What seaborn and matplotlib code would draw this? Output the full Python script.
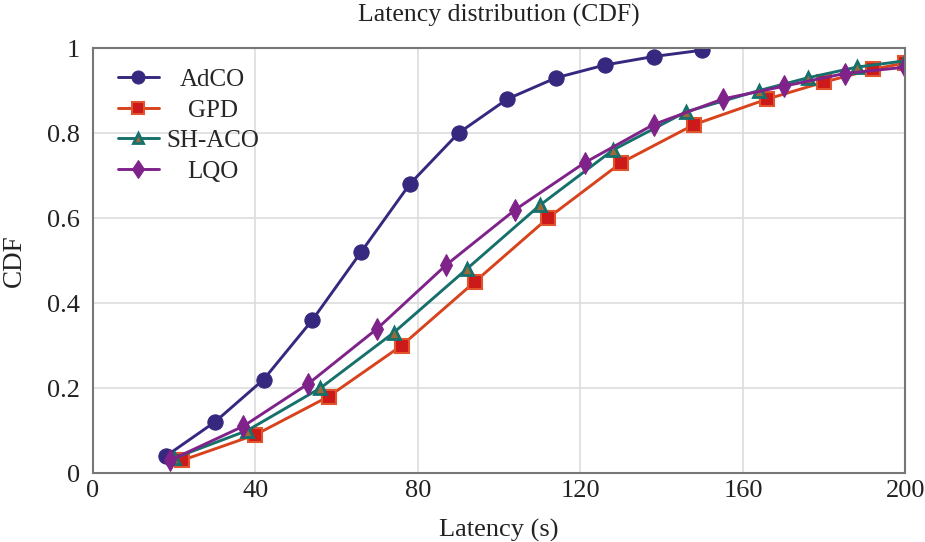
"""Latency CDF comparison chart."""

import matplotlib

matplotlib.use("Agg")
import matplotlib.pyplot as plt
import pandas as pd
import seaborn as sns

ADCO_X = [18, 30, 42, 54, 66, 78, 90, 102, 114, 126, 138, 150]
ADCO_Y = [0.04, 0.12, 0.22, 0.36, 0.52, 0.68, 0.80, 0.88, 0.93, 0.96, 0.98, 0.995]

GPD_X = [22, 40, 58, 76, 94, 112, 130, 148, 166, 180, 192, 200]
GPD_Y = [0.03, 0.09, 0.18, 0.30, 0.45, 0.60, 0.73, 0.82, 0.88, 0.92, 0.95, 0.965]

SHACO_X = [20, 38, 56, 74, 92, 110, 128, 146, 164, 176, 188, 200]
SHACO_Y = [0.035, 0.10, 0.20, 0.33, 0.48, 0.63, 0.76, 0.85, 0.90, 0.93, 0.955, 0.97]

LQO_X = [19, 37, 53, 70, 87, 104, 121, 138, 155, 170, 185, 200]
LQO_Y = [0.03, 0.11, 0.21, 0.34, 0.49, 0.62, 0.73, 0.82, 0.88, 0.91, 0.94, 0.955]

X_TICKS = [0, 40, 80, 120, 160, 200]
Y_TICKS = [0, 0.2, 0.4, 0.6, 0.8, 1]
Y_TICK_LABELS = ["0", "0.2", "0.4", "0.6", "0.8", "1"]

SERIES = [
    ("AdCO", ADCO_X, ADCO_Y,
     dict(color="#36287f", marker="o", markersize=11, markerfacecolor="#36287f",
          markeredgecolor="#36287f")),
    ("GPD", GPD_X, GPD_Y,
     dict(color="#d8421c", marker="s", markersize=9.5, markerfacecolor="#cc1a1a",
          markeredgecolor="#e0552e", markeredgewidth=1.5)),
    ("SH-ACO", SHACO_X, SHACO_Y,
     dict(color="#16706c", marker="^", markersize=9, markerfacecolor="#9a6a3a",
          markeredgecolor="#16706c", markeredgewidth=2)),
    ("LQO", LQO_X, LQO_Y,
     dict(color="#7f228a", marker="d", markersize=11, markerfacecolor="#7f228a",
          markeredgecolor="#7f228a")),
]

TEXT_COLOR = "#222222"


def center_legend_texts(fig, legend) -> None:
    # the reference centres the labels in their column
    fig.canvas.draw()
    renderer = fig.canvas.get_renderer()
    texts = legend.get_texts()
    widths = [t.get_window_extent(renderer).width for t in texts]
    widest = max(widths)
    for text, width in zip(texts, widths):
        text.set_x((widest - width) / 2)


def main() -> None:
    sns.set_theme(style="whitegrid")
    plt.rcParams["font.family"] = ["Liberation Serif", "DejaVu Serif"]

    fig = plt.figure(figsize=(9.25, 5.42), dpi=100)
    ax = fig.add_axes([0.1005, 0.1273, 0.8784, 0.7841])

    for name, xs, ys, style in SERIES:
        data = pd.DataFrame({"x": xs, "y": ys})
        sns.lineplot(data=data, x="x", y="y", ax=ax, label=name,
                     linewidth=2.1, **style)

    ax.set_xlim(0, 200)
    ax.set_ylim(0, 1)
    ax.set_xticks(X_TICKS)
    ax.set_yticks(Y_TICKS)
    ax.set_yticklabels(Y_TICK_LABELS)
    ax.tick_params(axis="both", length=0, labelsize=19, colors=TEXT_COLOR)
    ax.tick_params(axis="y", pad=9.5)
    ax.tick_params(axis="x", pad=5)

    ax.grid(True, color="#dddddd", linewidth=1.2)
    for spine in ax.spines.values():
        spine.set_color("#777777")
        spine.set_linewidth(1.5)

    ax.set_title("Latency distribution (CDF)", fontsize=18.5, pad=19, color=TEXT_COLOR)
    ax.set_xlabel("Latency (s)", fontsize=19, color=TEXT_COLOR, labelpad=12)
    ax.set_ylabel("CDF", fontsize=19.5, color=TEXT_COLOR, labelpad=14)

    legend = ax.legend(loc="upper left", frameon=False, fontsize=18, handlelength=1.65,
                       handletextpad=0.3, labelspacing=0.32, borderaxespad=0.0,
                       markerscale=0.85, bbox_to_anchor=(0.018, 0.975))
    center_legend_texts(fig, legend)

    fig.savefig("out.png", dpi=100)
    plt.close(fig)


if __name__ == "__main__":
    main()
